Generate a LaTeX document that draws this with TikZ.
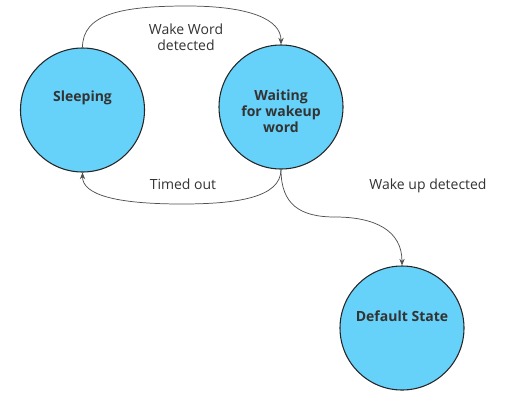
\documentclass[tikz,border=0pt]{standalone}
\usepackage{fontspec}
\setmainfont{Open Sans}
\usetikzlibrary{arrows.meta}
\definecolor{statefill}{HTML}{66D1F9}
\definecolor{edgecol}{HTML}{505050}
\definecolor{txt}{HTML}{333333}
\begin{document}
\begin{tikzpicture}[x=0.75pt,y=-0.75pt,
  state/.style={circle, draw=black!85, line width=0.8pt, fill=statefill, minimum size=93pt, inner sep=0pt},
  statetext/.style={font=\bfseries\fontsize{10.5pt}{12pt}\selectfont, text=txt, align=center, inner sep=0pt},
  lbl/.style={font=\fontsize{10.5pt}{12pt}\selectfont, text=txt, align=center, inner sep=0pt},
  edge/.style={draw=edgecol, line width=0.55pt, -{Stealth[length=5pt,width=4pt]}}]
\useasboundingbox (0,0) rectangle (520,411);
\node[state] (s) at (82.5,110) {};
\node[state] (w) at (281,107) {};
\node[state] (d) at (402,328) {};
\node[statetext] (st) at (82.5,98) {Sleeping};
\node[statetext] (wt) at (281,111) {Waiting\\for wakeup\\word};
\node[statetext] (dt) at (402,316) {Default State};
\coordinate (top) at (187,6);
\coordinate (bot) at (182,204);
\coordinate (mid) at (335,217);
\draw[edge] (s.north) .. controls +(0,-33) and +(-67,0) .. (top) .. controls +(63,0) and +(0,-25) .. (w.north);
\draw[edge] (w.south) .. controls +(0,28) and +(55,0) .. (bot) .. controls +(-67,0) and +(0,22) .. (s.south);
\draw[edge] (w.south) .. controls +(0,35) and +(-35,0) .. (mid) .. controls +(40,0) and +(0,-35) .. (d.north);
\node[lbl] (l1) at (186,37) {Wake Word\\detected};
\node[lbl] (l2) at (183,184) {Timed out};
\node[lbl] (l3) at (428,186) {Wake up detected};
\end{tikzpicture}
\end{document}
